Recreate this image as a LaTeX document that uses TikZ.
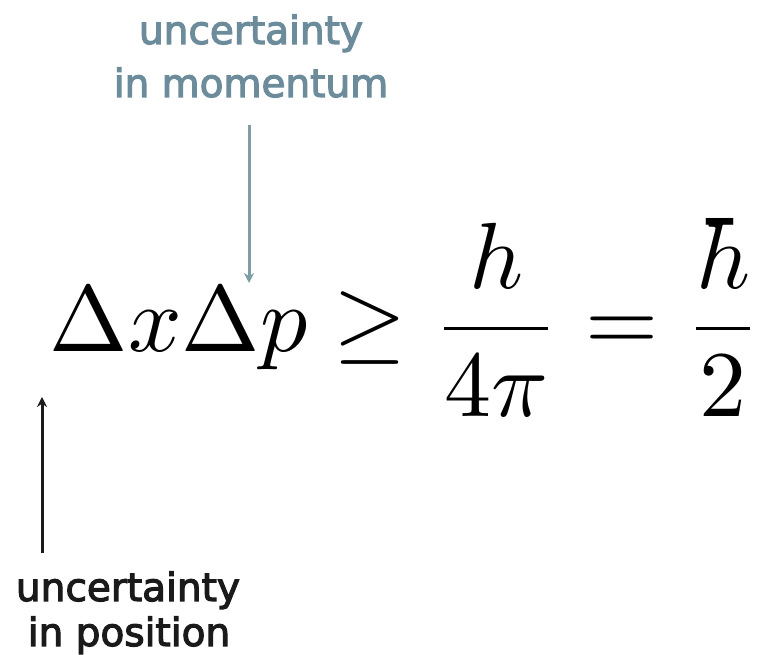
\documentclass[tikz,border=0pt]{standalone}
\usepackage{fontspec}
\setmainfont{DejaVu Sans}
\newfontfamily\lblfont{DejaVu Sans}[FakeBold=3]
\usetikzlibrary{arrows.meta}
\definecolor{momcol}{HTML}{6C8C9C}
\definecolor{momarrow}{HTML}{7E9EA6}
\definecolor{poscol}{HTML}{1A1A1A}
\tikzset{
  lbl/.style={inner sep=0pt, anchor=base, font=\lblfont\fontsize{39}{46}\selectfont},
  arr/.style={line width=3pt, -{Stealth[length=10pt,width=10pt]}}
}
\begin{document}
\begin{tikzpicture}[x=1pt,y=1pt]
\clip (0,0) rectangle (757,655);
\fill[white] (0,0) rectangle (757,655);
% equation
\node[inner sep=0pt, anchor=base west, scale=9.4] (eq) at (48,303)
  {$\displaystyle \Delta x\Delta p \geq \frac{h}{4\pi} = \frac{\hbar}{2}$};
% top label
\node[lbl, text=momcol] (mom1) at (251,611) {uncertainty};
\node[lbl, text=momcol] (mom2) at (251,558) {in momentum};
% bottom label
\node[lbl, text=poscol] (pos1) at (128,54) {uncertainty};
\node[lbl, text=poscol] (pos2) at (129,9) {in position};
% arrows
\coordinate (mstart) at (249,530);
\coordinate (mend) at (249,372);
\coordinate (pstart) at (42,102);
\coordinate (pend) at (42,258);
\draw[arr, draw=momarrow] (mstart) -- (mend);
\draw[arr, draw=poscol] (pstart) -- (pend);
\end{tikzpicture}
\end{document}
